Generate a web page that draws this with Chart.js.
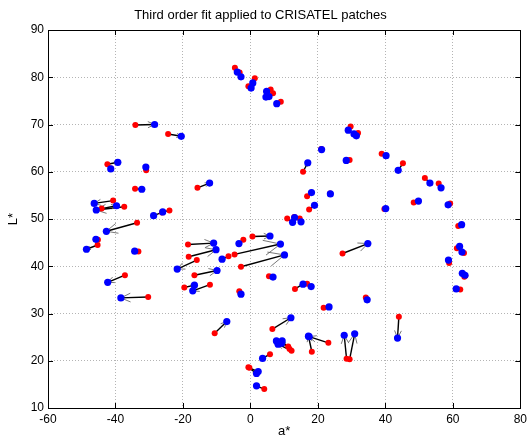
<!DOCTYPE html>
<html>
<head>
<meta charset="utf-8">
<script src="https://cdn.jsdelivr.net/npm/chart.js@4.4.0/dist/chart.umd.min.js"></script>
<style>
html, body { margin: 0; padding: 0; background: #fff; }
</style>
</head>
<body>
<canvas id="myChart" width="531" height="435"></canvas>
<script>
// measured (red) and fitted (blue) patches, arrow goes red -> blue
let redA = [-4.6, -3.2, 1.3, -0.6, 6.0, 6.7, 4.8, 9.0,
  -34.1, -24.4, -42.4, -41.3, -30.9, -34.2, -15.7, -40.7, -37.4, -44.1, -24.0, -26.2,
  -33.6, -45.2, -45.3, -33.2, -37.2, -30.3,
  -18.5, -18.3, -15.9, -16.6, -19.6, -12.0, 0.6, -2.1, -4.7, -6.5, -2.8, 5.5, -3.3,
  13.2, 16.8, 21.7, 27.3, 34.2, -10.6, 6.5, 11.2, 11.6, 12.2, 9.3, 23.1, 18.2,
  28.5, 29.4, 5.8, -0.6, -0.3, 4.1,
  10.9, 14.6, 13.0, 17.4, 16.8, 23.6, 15.6, 21.0, 29.4, 29.7, 31.9, 31.5,
  38.9, 45.2, 51.7, 55.8, 48.4, 59.2, 39.7, 61.6, 61.2, 63.3, 58.9, 63.4, 63.7, 62.2, 44.0];
let redL = [82.0, 81.0, 79.8, 78.1, 77.4, 76.6, 76.0, 74.8,
  69.9, 68.0, 61.6, 60.7, 60.3, 56.4, 56.6, 53.9, 52.6, 52.2, 51.8, 51.4,
  49.2, 45.6, 44.5, 43.1, 38.1, 33.5,
  44.6, 42.0, 41.3, 38.1, 35.5, 36.1, 46.3, 45.6, 42.5, 42.1, 39.9, 37.9, 34.7,
  35.2, 36.3, 31.2, 42.7, 33.4, 25.8, 26.7, 23.0, 22.5, 22.1, 23.8, 23.8, 21.9,
  20.4, 20.3, 21.4, 18.6, 18.5, 14.0,
  50.1, 50.1, 50.4, 52.0, 54.8, 55.4, 60.0, 64.8, 62.5, 69.6, 68.2, 67.7,
  63.8, 61.8, 58.7, 57.5, 53.5, 53.3, 52.1, 48.5, 43.8, 42.8, 40.7, 37.8, 38.0, 35.1, 29.3];
let blueA = [-3.9, -2.8, 0.7, 0.2, 4.8, 5.5, 4.6, 7.8,
  -28.4, -20.5, -39.3, -41.4, -31.0, -32.2, -12.1, -46.3, -45.7, -39.7, -26.0, -28.7,
  -42.7, -45.8, -48.6, -34.3, -42.3, -38.4,
  -10.9, -10.2, -21.7, -9.9, -16.6, -17.1, 5.8, -3.4, 8.9, -8.4, 10.1, 6.7, -2.8,
  15.6, 18.0, 23.3, 34.8, 34.6, -7.0, 12.0, 7.7, 9.4, 8.2, 9.2, 17.4, 17.2,
  27.8, 30.9, 3.6, 1.8, 2.3, 1.8,
  12.5, 15.0, 13.1, 19.0, 18.1, 23.7, 17.0, 21.1, 28.4, 29.0, 30.7, 31.4,
  40.2, 43.8, 53.2, 56.5, 49.8, 58.6, 40.1, 62.6, 62.0, 62.7, 58.7, 62.8, 63.6, 61.0, 43.6];
let blueL = [81.1, 80.1, 78.8, 77.7, 77.0, 75.9, 75.8, 74.4,
  70.0, 67.5, 62.0, 60.6, 61.0, 56.3, 57.6, 53.3, 51.9, 52.8, 51.5, 50.7,
  47.4, 45.7, 43.6, 43.2, 36.6, 33.3,
  44.9, 43.5, 39.4, 39.1, 36.0, 34.8, 46.4, 44.8, 44.7, 41.5, 42.4, 37.7, 34.1,
  36.2, 35.7, 31.4, 44.8, 32.9, 28.3, 29.1, 24.2, 24.2, 23.5, 23.7, 25.1, 25.2,
  25.4, 25.7, 20.5, 17.3, 17.7, 14.7,
  49.3, 49.4, 50.3, 52.9, 55.6, 55.3, 61.9, 64.7, 62.4, 68.8, 68.0, 67.6,
  63.4, 60.3, 57.6, 56.6, 53.8, 53.0, 52.2, 48.8, 44.2, 43.0, 41.3, 38.5, 38.1, 35.2, 24.8];

let xTicks = [-60, -40, -20, 0, 20, 40, 60, 80];
let yTicks = [10, 20, 30, 40, 50, 60, 70, 80, 90];

const fontFamily = 'Arial, "Liberation Sans", Helvetica, sans-serif';

function toPoints(xs, ys) {
  let pts = [];
  for (let i = 0; i < xs.length; i++) {
    pts.push({ x: xs[i], y: ys[i] });
  }
  return pts;
}

const arrowPlugin = {
  id: 'arrows',
  beforeDatasetsDraw(chart) {
    const ctx = chart.ctx;
    const sx = chart.scales.x;
    const sy = chart.scales.y;
    const area = chart.chartArea;
    ctx.save();
    ctx.beginPath();
    ctx.rect(area.left, area.top, area.right - area.left, area.bottom - area.top);
    ctx.clip();
    for (let i = 0; i < redA.length; i++) {
      const x1 = sx.getPixelForValue(redA[i]);
      const y1 = sy.getPixelForValue(redL[i]);
      const x2 = sx.getPixelForValue(blueA[i]);
      const y2 = sy.getPixelForValue(blueL[i]);
      const dx = x2 - x1;
      const dy = y2 - y1;
      const len = Math.sqrt(dx * dx + dy * dy);
      if (len < 1) continue;
      ctx.strokeStyle = '#000';
      ctx.lineWidth = 1.4;
      ctx.beginPath();
      ctx.moveTo(x1, y1);
      ctx.lineTo(x2, y2);
      ctx.stroke();
      const ux = dx / len, uy = dy / len;
      const back = 0.35 * len, side = 0.16 * len;
      ctx.strokeStyle = '#555';
      ctx.lineWidth = 0.8;
      ctx.beginPath();
      ctx.moveTo(x2 - ux * back - uy * side, y2 - uy * back + ux * side);
      ctx.lineTo(x2, y2);
      ctx.lineTo(x2 - ux * back + uy * side, y2 - uy * back - ux * side);
      ctx.stroke();
    }
    ctx.restore();
  }
};

// matlab style box with inward ticks
const boxPlugin = {
  id: 'box',
  afterDraw(chart) {
    const ctx = chart.ctx;
    const a = chart.chartArea;
    const sx = chart.scales.x;
    const sy = chart.scales.y;
    ctx.save();
    ctx.strokeStyle = '#000';
    ctx.lineWidth = 1;
    ctx.strokeRect(Math.round(a.left) + 0.5, Math.round(a.top) + 0.5,
      Math.round(a.right - a.left), Math.round(a.bottom - a.top));
    ctx.beginPath();
    for (let i = 0; i < xTicks.length; i++) {
      const x = Math.round(sx.getPixelForValue(xTicks[i])) + 0.5;
      ctx.moveTo(x, a.bottom); ctx.lineTo(x, a.bottom - 5);
      ctx.moveTo(x, a.top); ctx.lineTo(x, a.top + 5);
    }
    for (let i = 0; i < yTicks.length; i++) {
      const y = Math.round(sy.getPixelForValue(yTicks[i])) + 0.5;
      ctx.moveTo(a.left, y); ctx.lineTo(a.left + 5, y);
      ctx.moveTo(a.right, y); ctx.lineTo(a.right - 5, y);
    }
    ctx.stroke();
    ctx.restore();
  }
};

const ctx = document.getElementById('myChart').getContext('2d');
// blue first so chart.js paints it last (on top of red)
const myChart = new Chart(ctx, {
  type: 'scatter',
  data: {
    datasets: [{
      label: 'fitted',
      data: toPoints(blueA, blueL),
      backgroundColor: '#0000ff',
      borderWidth: 0,
      pointRadius: 3.6,
      pointHoverRadius: 3.6
    }, {
      label: 'measured',
      data: toPoints(redA, redL),
      backgroundColor: '#ff0000',
      borderWidth: 0,
      pointRadius: 3,
      pointHoverRadius: 3
    }]
  },
  options: {
    responsive: false,
    animation: false,
    events: [],
    layout: { padding: { left: 0, right: 10, top: 0, bottom: 0 } },
    plugins: {
      legend: { display: false },
      tooltip: { enabled: false },
      title: {
        display: true,
        text: 'Third order fit applied to CRISATEL patches',
        color: '#000',
        font: { family: fontFamily, size: 13, weight: 'normal' },
        padding: { top: 8, bottom: 6.4 }
      }
    },
    scales: {
      x: {
        type: 'linear',
        min: -60,
        max: 80,
        afterBuildTicks: (s) => { s.ticks = xTicks.map(v => ({ value: v })); },
        afterFit: (s) => { s.height = 27; },
        ticks: { color: '#000', padding: 4, font: { family: fontFamily, size: 12 } },
        grid: { color: '#b4b4b4', lineWidth: 1, drawTicks: false },
        border: { display: false, dash: [1, 2] },
        title: {
          display: true, text: 'a*', color: '#000',
          font: { family: fontFamily, size: 13 },
          padding: { top: 0, bottom: -4 }
        }
      },
      y: {
        type: 'linear',
        min: 10,
        max: 90,
        afterBuildTicks: (s) => { s.ticks = yTicks.map(v => ({ value: v })); },
        afterFit: (s) => { s.width = 48; },
        ticks: { color: '#000', padding: 4, font: { family: fontFamily, size: 12 } },
        grid: { color: '#b4b4b4', lineWidth: 1, drawTicks: false },
        border: { display: false, dash: [1, 2] },
        title: {
          display: true, text: 'L*', color: '#000',
          font: { family: fontFamily, size: 13 },
          padding: { top: 6, bottom: 0 }
        }
      }
    }
  },
  plugins: [arrowPlugin, boxPlugin]
});
</script>
</body>
</html>
